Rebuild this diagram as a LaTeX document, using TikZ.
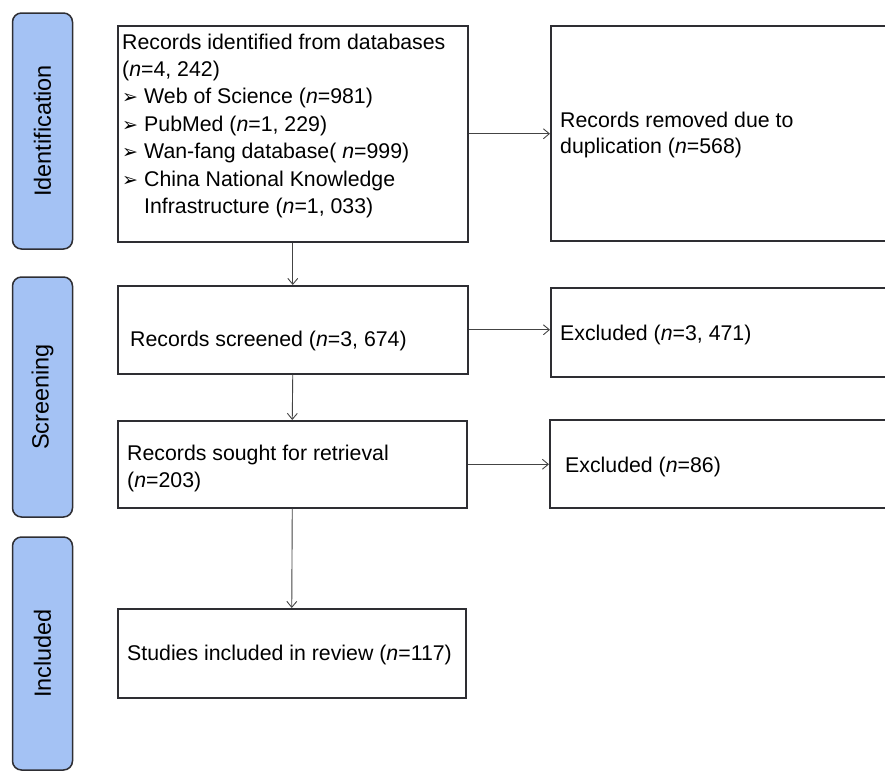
\documentclass[tikz,border=0pt]{standalone}
\usepackage{fontspec}
\usepackage{graphicx}
\setmainfont{Liberation Sans}
\newfontfamily\dvs{DejaVu Sans}
\usetikzlibrary{arrows.meta}
\definecolor{phasefill}{HTML}{A4C2F4}
\definecolor{edgecol}{HTML}{2E2E33}
\definecolor{conncol}{HTML}{444444}
\newcommand\bul{\makebox[22pt][l]{\raisebox{0pt}{\dvs\fontsize{19}{19}\selectfont ➢}}}
\begin{document}
\begin{tikzpicture}[x=1pt,y=-1pt,
  phase/.style={draw=edgecol, line width=1.5pt, fill=phasefill, rounded corners=9pt, inner sep=0pt, font=\fontsize{23.5}{28}\selectfont},
  box/.style={draw=edgecol, line width=1.5pt, inner sep=0pt, anchor=north west},
  txt/.style={anchor=base west, inner sep=0pt, font=\fontsize{21.3}{27.4}\selectfont},
  conn/.style={draw=conncol, line width=0.9pt, -{Straight Barb[length=6pt,width=10pt]}}]
\useasboundingbox (0,0) rectangle (885,771);
\clip (0,0) rectangle (885,771);

% phase bars
\node[phase, minimum width=60pt, minimum height=236pt] (pid) at (42.5,131) {\rotatebox{90}{Identification}};
\node[phase, minimum width=60pt, minimum height=240pt] (pscr) at (42.5,397) {\rotatebox{90}{Screening}};
\node[phase, minimum width=60pt, minimum height=233pt] (pinc) at (42.5,653.5) {\rotatebox{90}{Included}};

% main boxes
\node[box, minimum width=350pt, minimum height=216pt] (ident) at (117,25) {};
\node[box, minimum width=350pt, minimum height=88pt] (screened) at (117,285) {};
\node[box, minimum width=349pt, minimum height=87pt] (sought) at (117,420) {};
\node[box, minimum width=348pt, minimum height=89pt] (included) at (117,608) {};

% right boxes (run off the right edge)
\node[box, minimum width=400pt, minimum height=215pt] (removed) at (550,25) {};
\node[box, minimum width=400pt, minimum height=89pt] (excl1) at (550,287) {};
\node[box, minimum width=400pt, minimum height=88pt] (excl2) at (549,419) {};

% texts
\node[txt] (t1) at (122,49) {Records identified from databases};
\node[txt] (t2) at (122,76.4) {(\textit{n}=4, 242)};
\node[txt] (t3) at (122,103.8) {\bul Web of Science (\textit{n}=981)};
\node[txt] (t4) at (122,131.2) {\bul PubMed (\textit{n}=1, 229)};
\node[txt] (t5) at (122,158.6) {\bul Wan-fang database( \textit{n}=999)};
\node[txt] (t6) at (122,186) {\bul China National Knowledge};
\node[txt] (t7) at (144,213.4) {Infrastructure (\textit{n}=1, 033)};

\node[txt] (r1) at (560,127) {Records removed due to};
\node[txt] (r2) at (560,153.5) {duplication (\textit{n}=568)};

\node[txt] (s1) at (130,346) {Records screened (\textit{n}=3, 674)};
\node[txt] (e1) at (560,340) {Excluded (\textit{n}=3, 471)};

\node[txt] (g1) at (127,460) {Records sought for retrieval};
\node[txt] (g2) at (127,487) {(\textit{n}=203)};
\node[txt] (e2) at (565,472) {Excluded (\textit{n}=86)};

\node[txt] (i1) at (127,660) {Studies included in review (\textit{n}=117)};

% connectors
\draw[conn] (ident.south) -- (screened.north);
\draw[conn] (screened.south) -- (sought.north);
\draw[conn] (sought.south) -- (included.north);
\draw[conn] (ident.east) -- (ident.east -| removed.west);
\draw[conn] (screened.east) -- (screened.east -| excl1.west);
\draw[conn] (sought.east) -- (sought.east -| excl2.west);
\end{tikzpicture}
\end{document}
